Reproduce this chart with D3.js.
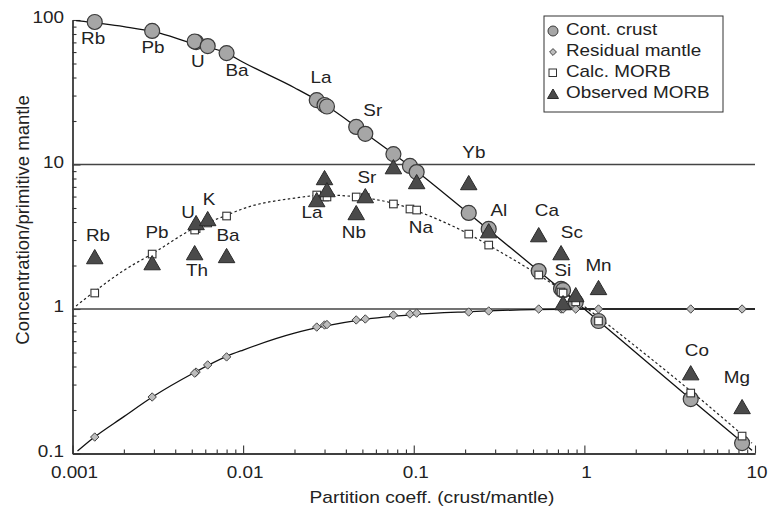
<!DOCTYPE html>
<html>
<head>
<meta charset="utf-8">
<script src="https://cdn.jsdelivr.net/npm/d3@7"></script>
<style>
  body { margin: 0; background: #fff; }
  svg { display: block; font-family: "Liberation Sans", Arial, sans-serif; }
  .lbl { font-size: 16px; fill: #222; }
</style>
</head>
<body>
<svg width="768" height="511"></svg>
<script>
// element data (partition coefficient D and normalized concentrations)
const elements = ["Rb", "Pb", "U", "Th", "K", "Ba", "La", "Ce", "Pr", "Nb", "Sr", "Nd", "Sm", "Na", "Yb", "Al", "Ca", "Sc", "Si", "Ti", "Mn", "Co", "Mg"];
const partD    = [0.00135, 0.00293, 0.0053, 0.0052, 0.0062, 0.0080, 0.027, 0.030, 0.031, 0.046, 0.052, 0.076, 0.095, 0.104, 0.21, 0.275, 0.54, 0.73, 0.75, 0.89, 1.21, 4.2, 8.4];
const crust    = [96.9, 84, 70.4, 71, 66, 59, 27.9, 25.8, 25.2, 18.2, 16.3, 11.8, 9.77, 8.87, 4.62, 3.58, 1.83, 1.38, 1.35, 1.12, 0.826, 0.238, 0.118];
const residual = [0.130, 0.246, 0.366, 0.36, 0.41, 0.466, 0.75, 0.775, 0.78, 0.84, 0.853, 0.908, 0.923, 0.937, 0.953, 0.969, 1.0, 1.0, 1.0, 1.0, 1.0, 1.0, 1.0];
const calcMorb = [1.29, 2.40, 3.6, 3.52, 3.94, 4.40, 6.15, 5.96, 5.96, 5.96, 5.9, 5.33, 4.92, 4.84, 3.30, 2.77, 1.72, 1.31, 1.29, 1.12, 0.826, 0.262, 0.132];
const obsMorb  = [2.29, 2.08, 3.94, 2.44, 4.20, 2.33, 5.68, 8.07, 6.66, 4.62, 6.05, 9.6, null, 7.57, 7.45, 3.46, 3.25, 2.44, 1.10, 1.25, 1.40, 0.36, 0.21];

// model curves
const crustCurve = [[0.00105, 99], [0.002, 90], [0.003, 83], [0.005, 69], [0.008, 59], [0.01, 51], [0.02, 34], [0.03, 26], [0.05, 17], [0.1, 9.3], [0.2, 4.8], [0.5, 1.98], [1, 1.0], [2, 0.5], [5, 0.2], [9.6, 0.105]];
const residCurve = [[0.00107, 0.104], [0.0013, 0.126], [0.002, 0.18], [0.003, 0.25], [0.005, 0.355], [0.008, 0.47], [0.01, 0.52], [0.02, 0.68], [0.03, 0.76], [0.05, 0.845], [0.1, 0.915], [0.2, 0.955], [0.5, 0.99], [1, 1.0], [10, 1.0]];
const calcCurve  = [[0.00105, 1.05], [0.0013, 1.28], [0.002, 1.85], [0.003, 2.45], [0.005, 3.55], [0.008, 4.45], [0.01, 4.95], [0.02, 5.85], [0.03, 6.15], [0.05, 5.9], [0.08, 5.3], [0.1, 4.85], [0.2, 3.4], [0.3, 2.6], [0.5, 1.82], [0.75, 1.33], [1, 1.04], [2, 0.55], [5, 0.228], [9.6, 0.118]];

// element labels (text, D, C)
const crustLabels = [["Rb", 0.00132, 75], ["Pb", 0.00296, 64], ["U", 0.00543, 52], ["Ba", 0.0092, 44.4], ["La", 0.0286, 40.3], ["Sr", 0.0575, 23.5], ["Yb", 0.225, 12.2]];
const morbLabels = [["Rb", 0.00141, 3.25], ["Pb", 0.00313, 3.41], ["U", 0.00475, 4.69], ["K", 0.00631, 5.68], ["Th", 0.00536, 1.86], ["Ba", 0.00815, 3.2],
  ["La", 0.0253, 4.62], ["Nb", 0.0446, 3.41], ["Sr", 0.0531, 8.07], ["Na", 0.110, 3.69], ["Al", 0.315, 4.77], ["Ca", 0.603, 4.84],
  ["Sc", 0.844, 3.41], ["Si", 0.747, 1.86], ["Mn", 1.21, 2.01], ["Co", 4.56, 0.52], ["Mg", 7.82, 0.333]];

const xMajor = [0.001, 0.01, 0.1, 1, 10];
const xMajorLabels = ["0.001", "0.01", "0.1", "1", "10"];
const yMajor = [0.1, 1, 10, 100];
const yMajorLabels = ["0.1", "1", "10", "100"];
const refLines = [1, 10];
const legendItems = ["Cont. crust", "Residual mantle", "Calc. MORB", "Observed MORB"];

const svg = d3.select("svg");
const x = d3.scaleLog().domain([0.001, 10]).range([72.5, 755]);
const y = d3.scaleLog().domain([0.1, 100]).range([453.5, 20]);
const SX = 1.18; // the figure's lettering is a little wide

const minorTicks = (lo, hi) => {
  const out = [];
  for (let p = lo; p < hi; p++)
    for (let m = 2; m <= 9; m++) out.push(m * Math.pow(10, p));
  return out;
};

// axes: minor ticks inside, then major ticks
const gx = svg.append("g").attr("transform", "translate(0,453.5)");
gx.call(d3.axisBottom(x).tickValues(minorTicks(-3, 1)).tickSize(-4).tickSizeOuter(0).tickFormat(""));
gx.append("g").call(d3.axisBottom(x).tickValues(xMajor).tickSize(-8).tickSizeOuter(0).tickFormat(""));
const gy = svg.append("g").attr("transform", "translate(72.5,0)");
gy.call(d3.axisLeft(y).tickValues(minorTicks(-1, 2)).tickSize(-4).tickSizeOuter(0).tickFormat(""));
gy.append("g").call(d3.axisLeft(y).tickValues(yMajor).tickSize(-8).tickSizeOuter(0).tickFormat(""));
svg.selectAll(".domain").attr("stroke", "#333").attr("stroke-width", 1.3);
svg.selectAll(".tick line").attr("stroke", "#333").attr("stroke-width", 1.1);

// tick labels
svg.append("g").selectAll("text").data(xMajor).join("text")
  .attr("class", "lbl").attr("text-anchor", "middle")
  .attr("transform", d => `translate(${x(d) + 2},478) scale(${SX},1)`)
  .text((d, i) => xMajorLabels[i]);
svg.append("g").selectAll("text").data(yMajor).join("text")
  .attr("class", "lbl").attr("text-anchor", "end").attr("dominant-baseline", "central")
  .attr("transform", d => `translate(64,${y(d) - 2}) scale(${SX},1)`)
  .text((d, i) => yMajorLabels[i]);

svg.append("text").attr("class", "lbl").attr("text-anchor", "middle").attr("dominant-baseline", "central")
  .style("font-size", "16.5px")
  .attr("transform", "translate(23,220) rotate(-90) scale(1.12,1.1)").text("Concentration/primitive mantle");
svg.append("text").attr("class", "lbl").attr("text-anchor", "middle")
  .attr("transform", `translate(432,503) scale(1.2,1)`).text("Partition coeff. (crust/mantle)");

// horizontal reference lines
svg.selectAll(".ref").data(refLines).join("line")
  .attr("x1", x(0.001)).attr("x2", x(10))
  .attr("y1", d => y(d)).attr("y2", d => y(d))
  .attr("stroke", "#444").attr("stroke-width", 1.6);

// curves
const line = d3.line().x(d => x(d[0])).y(d => y(d[1])).curve(d3.curveMonotoneX);
svg.append("path").attr("d", line(crustCurve)).attr("fill", "none").attr("stroke", "#111").attr("stroke-width", 1.3);
svg.append("path").attr("d", line(residCurve)).attr("fill", "none").attr("stroke", "#111").attr("stroke-width", 1.3);
svg.append("path").attr("d", line(calcCurve)).attr("fill", "none").attr("stroke", "#222")
  .attr("stroke-width", 1.2).attr("stroke-dasharray", "2.5,2.5");

const idx = d3.range(elements.length);
const diamond = d3.symbol().type(d3.symbolDiamond2).size(45);
const tri = (s) => `M0,${-s * 0.5}L${s * 0.55},${s * 0.45}L${-s * 0.55},${s * 0.45}Z`;

// continental crust circles
svg.append("g").selectAll("circle").data(idx).join("circle")
  .attr("cx", i => x(partD[i])).attr("cy", i => y(crust[i])).attr("r", 7.5)
  .attr("fill", "#a6a6a6").attr("stroke", "#3a3a3a").attr("stroke-width", 1.2);

// residual mantle diamonds
svg.append("g").selectAll("path").data(idx).join("path")
  .attr("transform", i => `translate(${x(partD[i])},${y(residual[i])})`)
  .attr("d", diamond).attr("fill", "#bcbcbc").attr("stroke", "#444").attr("stroke-width", 1);

// calculated MORB squares
svg.append("g").selectAll("rect").data(idx).join("rect")
  .attr("x", i => x(partD[i]) - 3.8).attr("y", i => y(calcMorb[i]) - 3.8)
  .attr("width", 7.6).attr("height", 7.6)
  .attr("fill", "#fff").attr("stroke", "#333").attr("stroke-width", 1.1);

// observed MORB triangles
svg.append("g").selectAll("path").data(idx.filter(i => obsMorb[i] != null)).join("path")
  .attr("transform", i => `translate(${x(partD[i])},${y(obsMorb[i])})`)
  .attr("d", tri(15)).attr("fill", "#4a4a4a").attr("stroke", "#2a2a2a").attr("stroke-width", 1);

// labels
svg.append("g").selectAll("text").data(crustLabels.concat(morbLabels)).join("text")
  .attr("class", "lbl").attr("text-anchor", "middle").attr("dominant-baseline", "central")
  .attr("transform", d => `translate(${x(d[1])},${y(d[2])}) scale(${SX},1)`).text(d => d[0]);

// legend
const lg = svg.append("g").attr("transform", "translate(544,16)");
lg.append("rect").attr("width", 179).attr("height", 96).attr("fill", "#fff").attr("stroke", "#333").attr("stroke-width", 1);
const row = (i) => 14 + i * 21;
lg.append("circle").attr("cx", 9).attr("cy", row(0) + 1).attr("r", 5)
  .attr("fill", "#a6a6a6").attr("stroke", "#3a3a3a");
lg.append("path").attr("transform", `translate(9,${row(1) + 1})`).attr("d", d3.symbol().type(d3.symbolDiamond2).size(30))
  .attr("fill", "#bcbcbc").attr("stroke", "#444");
lg.append("rect").attr("x", 5).attr("y", row(2) - 3).attr("width", 7.5).attr("height", 7.5)
  .attr("fill", "#fff").attr("stroke", "#333");
lg.append("path").attr("transform", `translate(9,${row(3) + 1})`).attr("d", tri(10))
  .attr("fill", "#4a4a4a").attr("stroke", "#2a2a2a");
lg.selectAll("text.leg").data(legendItems).join("text")
  .attr("class", "lbl leg").attr("dominant-baseline", "central")
  .attr("transform", (d, i) => `translate(22,${row(i)}) scale(${SX},1)`)
  .text(d => d);
</script>
</body>
</html>
